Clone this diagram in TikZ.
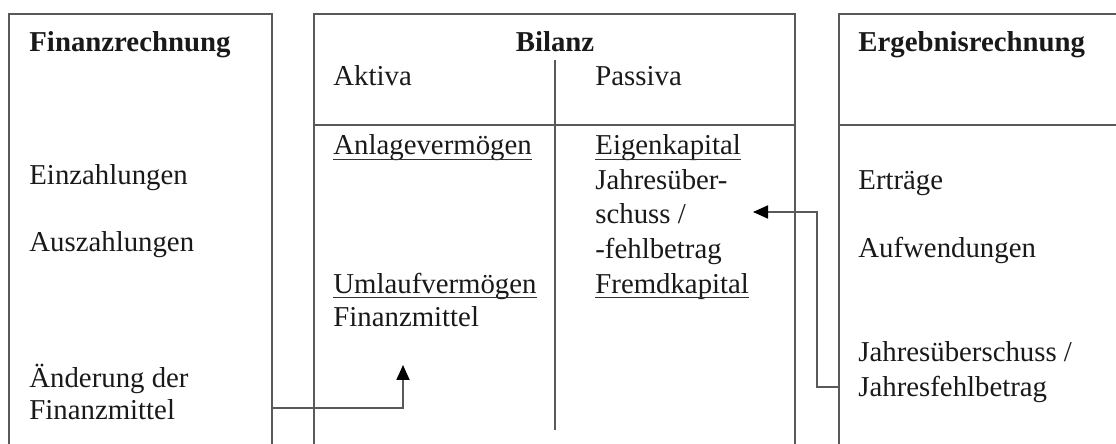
\documentclass[tikz,border=0pt]{standalone}
\usepackage{fontspec}
\setmainfont{Liberation Serif}
\usetikzlibrary{arrows.meta}
\begin{document}
\begin{tikzpicture}[x=0.5pt,y=-0.5pt,
  frame/.style={draw=black!65,line width=0.9pt},
  txt/.style={anchor=base west,inner sep=0pt,font=\fontsize{14.4}{17}\selectfont,text=black!90},
  ttl/.style={txt,font=\fontsize{14.4}{17}\selectfont\bfseries},
  ul/.style={draw=black!80,line width=0.7pt},
  conn/.style={draw=black!65,line width=0.9pt,-{Triangle[length=7.5pt,width=6.5pt,color=black]}}]
\useasboundingbox (0,0) rectangle (1116,444);
% boxes (open at the bottom)
\path[frame] (9,444) -- (9,14) -- (272,14) -- (272,444);
\path[frame] (314,444) -- (314,14) -- (795,14) -- (795,444);
\path[frame] (314,125) -- (795,125);
\path[frame] (555,60) -- (555,430);
\path[frame] (1116,14) -- (839,14) -- (839,444);
\path[frame] (839,125) -- (1116,125);
% Finanzrechnung
\node[ttl] (fr) at (29,52) {Finanzrechnung};
\node[txt] (ein) at (29,185) {Einzahlungen};
\node[txt] (aus) at (29,252) {Auszahlungen};
\node[txt] (aend1) at (29,387) {Änderung der};
\node[txt] (aend2) at (29,420) {Finanzmittel};
% Bilanz
\node[ttl,anchor=base] (bil) at (555,52) {Bilanz};
\node[txt] (akt) at (333,86) {Aktiva};
\node[txt] (pas) at (595,86) {Passiva};
\node[txt] (anl) at (333,155) {Anlagevermögen};
\node[txt] (uml) at (333,293) {Umlaufvermögen};
\node[txt] (fm) at (333,327) {Finanzmittel};
\node[txt] (ek) at (595,155) {Eigenkapital};
\node[txt] (j1) at (595,190) {Jahresüber-};
\node[txt] (j2) at (595,224) {schuss /};
\node[txt] (j3) at (595,259) {-fehlbetrag};
\node[txt] (fk) at (595,293) {Fremdkapital};
\foreach \n in {anl,uml,ek,fk}
  \path[ul] ([yshift=-2.2pt]\n.base west) -- ([yshift=-2.2pt]\n.base east);
% Ergebnisrechnung
\node[ttl] (er) at (858,52) {Ergebnisrechnung};
\node[txt] (ertr) at (858,190) {Erträge};
\node[txt] (aufw) at (858,258) {Aufwendungen};
\node[txt] (js1) at (858,362) {Jahresüberschuss /};
\node[txt] (js2) at (858,397) {Jahresfehlbetrag};
% connectors
\coordinate (c1s) at (272,408);
\coordinate (c1e) at (403,365);
\path[conn] (c1s) -- (403,408) -- (c1e);
\coordinate (c2s) at (839,387);
\coordinate (c2e) at (753,212);
\path[conn] (c2s) -- (817,387) -- (817,212) -- (c2e);
\end{tikzpicture}
\end{document}
